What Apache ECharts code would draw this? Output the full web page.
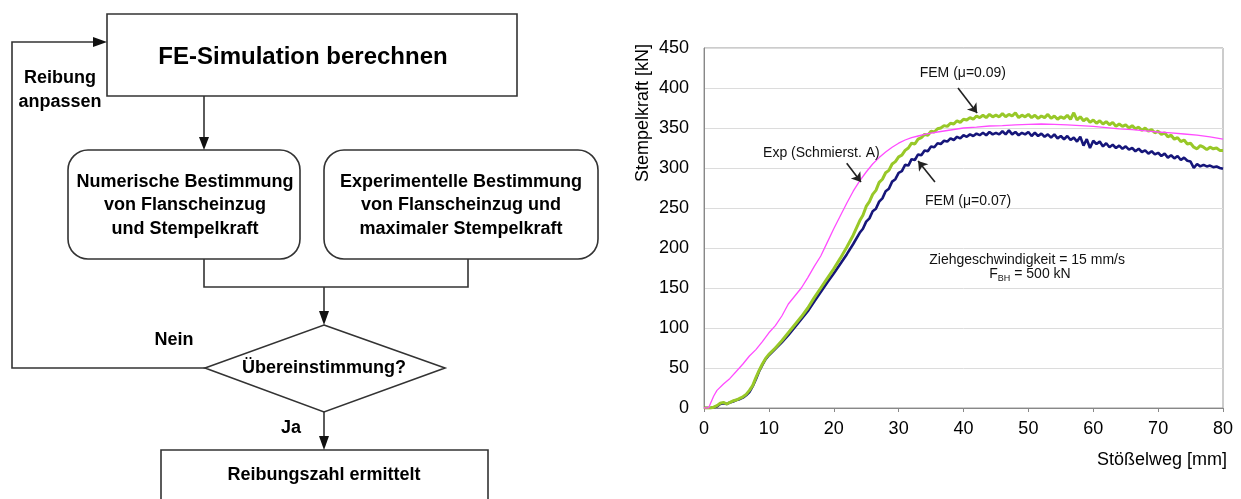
<!DOCTYPE html>
<html><head><meta charset="utf-8">
<script src="https://cdn.jsdelivr.net/npm/echarts@6/dist/echarts.min.js"></script>
<style>html,body{margin:0;padding:0;background:#fff}#c{width:1241px;height:499px}</style>
</head><body><div id="c"></div>
<script>
// ---- data ----
const xTicks = [0, 10, 20, 30, 40, 50, 60, 70, 80];
const yTicks = [0, 50, 100, 150, 200, 250, 300, 350, 400, 450];

const xExp = [0,0.7,1.5,2,3,4,5,6,7,8,9,10,11,12,13,14,15,16,17,18,19,20,21,22,23,24,25,26,27,28,29,30,31,32,33,34,35,36,38,40,42,44,46,48,50,52,54,56,58,60,62,64,66,68,70,72,74,76,78,80];
const yExp = [0,0,15,22,30,37,46,55,65,73,83,94,103,115,130,140,150,163,177,190,207,224,240,256,271,284,295,305,313,320,326,331,335,338,340,342,343.5,345,347.5,350,351,352.5,353,354,354.5,355,354.5,354,353,352,350.5,349,348,346.5,345,344,342.5,341,339,336];

const xFem = [0,1,1.5,2,2.5,3,3.5,4,4.5,5,
  5.5,6,6.5,7,7.5,8,8.5,9,9.5,10,
  11,12,13,14,15,16,17,18,19,20,
  21,22,23,24,24.5,25,25.5,26,26.5,27,
  27.5,28,28.5,29,29.5,30,30.5,31,31.5,32,
  32.5,33,33.5,34,34.5,35,35.5,36,36.5,37,
  37.5,38,38.5,39,39.5,40,40.5,41,41.5,42,
  42.5,43,43.5,44,44.5,45,45.5,46,46.5,47,
  47.5,48,48.5,49,49.5,50,50.5,51,51.5,52,
  52.5,53,53.5,54,54.5,55,55.5,56,56.5,57,
  57.5,58,58.5,59,59.5,60,60.5,61,61.5,62,
  62.5,63,63.5,64,64.5,65,65.5,66,66.5,67,
  67.5,68,68.5,69,69.5,70,70.5,71,71.5,72,
  72.5,73,73.5,74,74.5,75,75.5,76,76.5,77,
  77.5,78,78.5,79,79.5,80];
const yFem09 = [0,0,1,3,6,7,5,7,9,10,
  12,14,17,22,28,38,47,55,62,67,
  75,84,94,104,114,125,138,150,162,174,
  187,201,216,234,241,252,258,267,272,282,
  286,294,297,305,308,314,316,322,325,331,
  330,336,338,342,341,346,345,349,350,353,
  352,356,355,359,357,361,360,363,361,365,
  363,366,363,367,364,366,364,368,364,367,
  365,369,363,366,364,367,363,366,362,365,
  363,367,362,365,361,364,362,366,361,369,
  360,364,359,362,357,360,356,359,355,358,
  354,357,352,355,352,354,350,353,349,351,
  347,350,346,348,344,346,342,344,339,341,
  336,338,333,335,330,331,326,324,328,326,
  323,326,324,325,322,322];
const yFem07 = [0,0,1,2,5,6,5,7,8,10,
  11,13,16,20,27,36,46,54,61,66,
  74,82,91,101,111,121,133,145,157,168,
  180,192,205,219,224,233,237,246,249,258,
  262,271,274,283,286,294,296,304,303,311,
  310,317,316,322,321,327,326,331,330,334,
  333,337,335,339,337,341,339,342,340,343,
  341,344,341,345,342,344,342,346,342,347,
  342,345,341,344,342,345,340,344,340,343,
  339,342,338,342,337,340,336,340,335,338,
  333,339,328,336,325,334,330,333,327,331,
  326,329,325,328,324,327,323,325,321,324,
  320,322,318,321,317,319,315,318,313,316,
  312,315,310,313,309,308,300,305,302,304,
  302,303,301,302,300,299];

// ---- rendering ----
const FONT = '"Liberation Sans", Arial, Helvetica, sans-serif';
const LC = '#333';
const chart = echarts.init(document.getElementById('c'), null, {renderer: 'canvas'});

function T(x, y, text, size, bold, align, extra) {
  return Object.assign({
    type: 'text', x: x, y: y, z: 10,
    style: {
      text: text, fill: '#000',
      font: (bold ? 'bold ' : '') + size + 'px ' + FONT,
      textAlign: align || 'center', align: align || 'center',
      textVerticalAlign: 'middle', verticalAlign: 'middle'
    }
  }, extra || {});
}
function PL(points) {
  return {type: 'polyline', z: 5, shape: {points: points}, style: {stroke: LC, lineWidth: 1.6, fill: null}};
}
function TRI(points) {
  return {type: 'polygon', z: 6, shape: {points: points}, style: {fill: '#111'}};
}

const flow = [
  {type: 'rect', z: 4, shape: {x: 107, y: 14, width: 410, height: 82}, style: {fill: '#fff', stroke: LC, lineWidth: 1.6}},
  {type: 'rect', z: 4, shape: {x: 68, y: 150, width: 232, height: 109, r: 20}, style: {fill: '#fff', stroke: LC, lineWidth: 1.6}},
  {type: 'rect', z: 4, shape: {x: 324, y: 150, width: 274, height: 109, r: 20}, style: {fill: '#fff', stroke: LC, lineWidth: 1.6}},
  {type: 'polygon', z: 4, shape: {points: [[324, 325], [445, 368], [324, 412], [205, 368]]}, style: {fill: '#fff', stroke: LC, lineWidth: 1.6}},
  {type: 'rect', z: 4, shape: {x: 161, y: 450, width: 327, height: 80}, style: {fill: '#fff', stroke: LC, lineWidth: 1.6}},
  PL([[205, 368], [12, 368], [12, 42], [95, 42]]),
  TRI([[93, 37], [107, 42], [93, 47]]),
  PL([[204, 96], [204, 138]]),
  TRI([[199, 137], [209, 137], [204, 150]]),
  PL([[204, 259], [204, 287], [468, 287], [468, 259]]),
  PL([[324, 287], [324, 312]]),
  TRI([[319, 311], [329, 311], [324, 325]]),
  PL([[324, 412], [324, 437]]),
  TRI([[319, 436], [329, 436], [324, 450]]),
  T(303, 57, 'FE-Simulation berechnen', 24, true),
  T(60, 78, 'Reibung', 18, true),
  T(60, 102, 'anpassen', 18, true),
  T(185, 182, 'Numerische Bestimmung', 18, true),
  T(185, 205, 'von Flanscheinzug', 18, true),
  T(185, 229, 'und Stempelkraft', 18, true),
  T(461, 182, 'Experimentelle Bestimmung', 18, true),
  T(461, 205, 'von Flanscheinzug und', 18, true),
  T(461, 229, 'maximaler Stempelkraft', 18, true),
  T(174, 340, 'Nein', 18, true),
  T(324, 368, 'Übereinstimmung?', 18, true),
  T(291, 428, 'Ja', 18, true),
  T(324, 475, 'Reibungszahl ermittelt', 18, true),
  // chart axis titles
  T(643, 113, 'Stempelkraft [kN]', 18, false, 'center', {rotation: Math.PI / 2}),
  T(1227, 460, 'Stößelweg [mm]', 18, false, 'right')
];

function pairs(xs, ys) { return xs.map((x, i) => [x, ys[i]]); }
function note(coord, text, rich) {
  return {
    coord: coord, symbol: 'circle', symbolSize: 1, itemStyle: {color: 'rgba(0,0,0,0)'},
    label: {show: true, position: 'inside', formatter: text, color: '#111', fontSize: 14, fontFamily: FONT, rich: rich}
  };
}

chart.setOption({
  animation: false,
  backgroundColor: '#fff',
  grid: {left: 704, top: 48, width: 519, height: 360, show: true, borderColor: '#999', borderWidth: 1, backgroundColor: 'transparent'},
  xAxis: {
    type: 'value', min: xTicks[0], max: xTicks[xTicks.length - 1], interval: xTicks[1] - xTicks[0],
    axisLine: {lineStyle: {color: '#888', width: 1}},
    axisTick: {show: true, length: 4, lineStyle: {color: '#888'}},
    axisLabel: {fontSize: 18, color: '#000', fontFamily: FONT, margin: 12},
    splitLine: {show: false}
  },
  yAxis: {
    type: 'value', min: yTicks[0], max: yTicks[yTicks.length - 1], interval: yTicks[1] - yTicks[0],
    axisLine: {show: true, lineStyle: {color: '#888', width: 1}},
    axisTick: {show: false},
    axisLabel: {fontSize: 18, color: '#000', fontFamily: FONT, margin: 15},
    splitLine: {show: true, lineStyle: {color: '#dcdcdc', width: 1}}
  },
  graphic: {elements: flow},
  series: [
    {type: 'line', name: 'FEM (μ=0.07)', data: pairs(xFem, yFem07), symbol: 'none', z: 2,
      lineStyle: {color: '#16167a', width: 2.6}},
    {type: 'line', name: 'FEM (μ=0.09)', data: pairs(xFem, yFem09), symbol: 'none', z: 3,
      lineStyle: {color: '#98c828', width: 3}},
    {type: 'line', name: 'Exp (Schmierst. A)', data: pairs(xExp, yExp), symbol: 'none', z: 4,
      lineStyle: {color: '#ff4cff', width: 1.3},
      markLine: {
        silent: true, symbol: ['none', 'arrow'], symbolSize: 9,
        lineStyle: {color: '#222', width: 1.6, type: 'solid'}, label: {show: false},
        data: [
          [{coord: [39.15, 400]}, {coord: [42.1, 368.75]}],
          [{coord: [22.0, 306]}, {coord: [24.2, 282.5]}],
          [{coord: [35.6, 282.5]}, {coord: [33.0, 308.75]}]
        ]
      },
      markPoint: {
        silent: true,
        data: [
          note([39.9, 418.75], 'FEM (μ=0.09)'),
          note([18.1, 318.75], 'Exp (Schmierst. A)'),
          note([40.7, 258.75], 'FEM (μ=0.07)'),
          note([49.8, 185], 'Ziehgeschwindigkeit = 15 mm/s'),
          note([50.25, 167.5], '{a|F}{b|BH}{a| = 500 kN}', {
            a: {fontSize: 14, fontFamily: FONT, color: '#111', lineHeight: 18},
            b: {fontSize: 9, fontFamily: FONT, color: '#111', lineHeight: 18, verticalAlign: 'bottom'}
          })
        ]
      }
    }
  ]
});
</script>
</body></html>
